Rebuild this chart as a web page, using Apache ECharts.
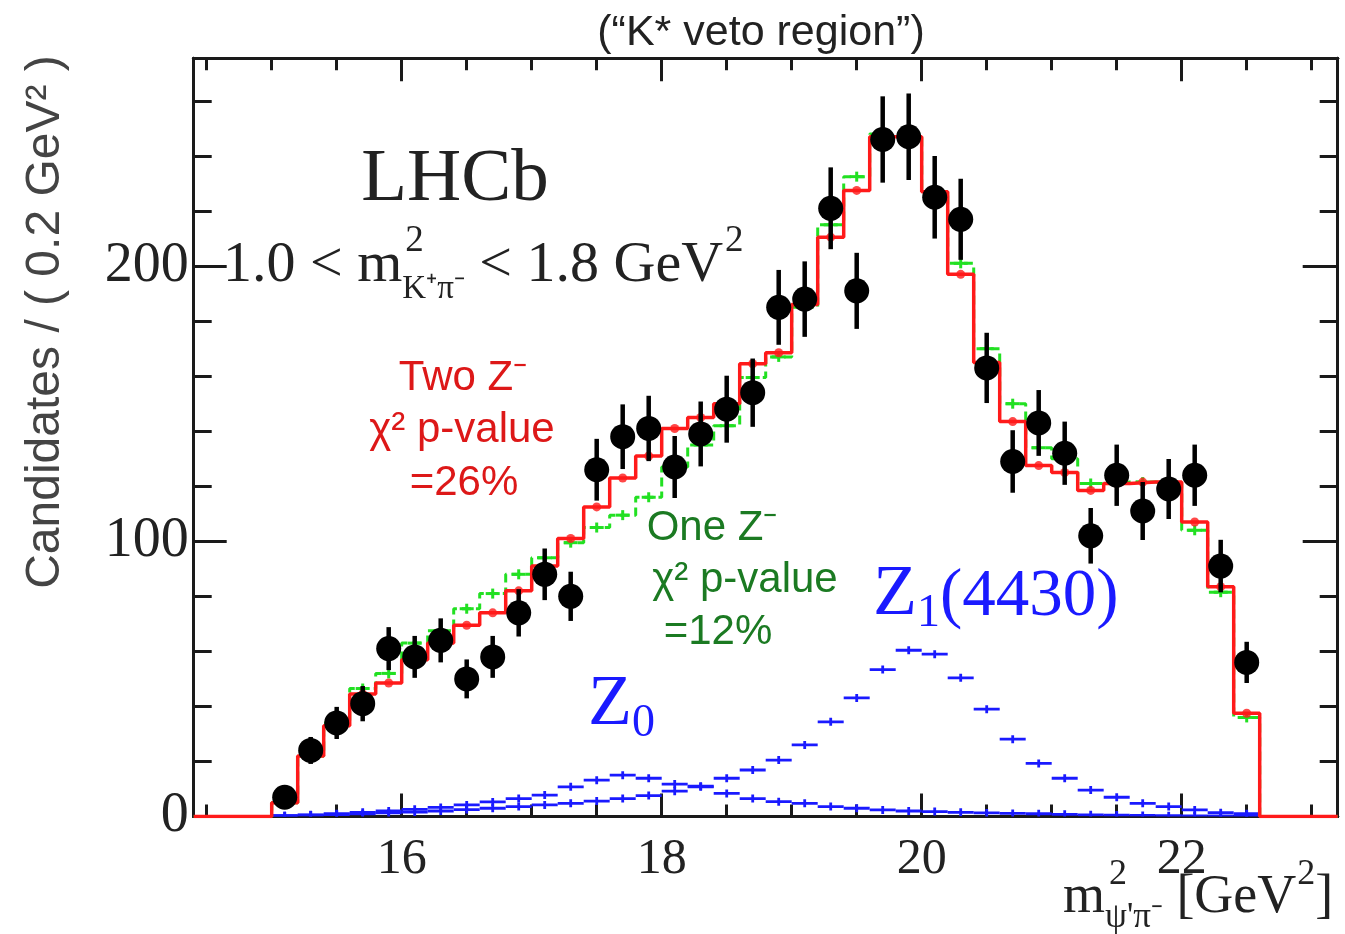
<!DOCTYPE html>
<html><head><meta charset="utf-8">
<script src="https://cdn.jsdelivr.net/npm/echarts@6/dist/echarts.min.js"></script>
<style>html,body{margin:0;padding:0;background:#fff}#c{width:1345px;height:934px}</style>
</head><body><div id="c"></div>
<script>
// ---- data ----
const binCenters = [15.1,15.3,15.5,15.7,15.9,16.1,16.3,16.5,16.7,16.9,17.1,17.3,17.5,17.7,17.9,18.1,18.3,18.5,18.7,18.9,
  19.1,19.3,19.5,19.7,19.9,20.1,20.3,20.5,20.7,20.9,21.1,21.3,21.5,21.7,21.9,22.1,22.3,22.5];
const dataCounts = [7,24,34,41,61,58,64,50,58,74,88,80,126,138,141,127,139,148,154,185,
  188,221,191,246,247,225,217,163,129,143,132,102,124,111,119,124,91,56];
const twoZFit = [5,22,33,44.5,48.5,57,63,69.5,74,82,91,101,112.5,123,131,141,145,150,164.5,168.5,
  186,210.5,227.5,247,247,227,197,165,143.5,127.5,125,118.5,121,121.5,121.5,107,83.5,37.5];
const oneZFit = [5,22,34,46.5,52,63,67.5,75.5,81,88,94,99.5,105,109.5,116,127,135,142,159.5,167,
  185,215,232.5,248,248,227,201,170,150,134,130,121,121.5,121.5,121,104,81.5,36];
const z0Comp = [0.3,0.6,1.0,1.5,2.0,2.6,3.3,4.2,5.3,6.5,7.8,10.8,13.2,15,13.9,11.8,10.8,8.4,6.5,5.4,
  4.8,3.6,3.0,2.4,2.0,1.8,1.5,1.3,1.1,1.0,0.8,0.6,0.5,0.4,0.3,0.2,0.2,0.1];
const z1Comp = [0.3,0.5,0.7,1.0,1.3,1.6,2.0,2.5,3.0,3.6,4.2,4.8,5.6,6.5,7.6,9.2,11,13.9,16.9,20.5,
  26,34.4,43.1,53.4,60.4,59,50.4,39,28.1,19.3,13.9,9.6,7,4.8,3.6,2.4,1.4,1.0];
const xMajorTicks = [16,18,20,22];
const xMinorTicks = [14.5,15,15.5,16.5,17,17.5,18.5,19,19.5,20.5,21,21.5,22.5,23];
const yMajorTicks = [0,100,200];
const yMinorTicks = [20,40,60,80,120,140,160,180,220,240,260];

// ---- layout constants ----
const XMIN = 14.4, XMAX = 23.2, YMIN = 0, YMAX = 275.5, BINW = 0.2;
const SERIF = 'Liberation Serif', SANS = 'Liberation Sans';
const INK = '#1a1a1a';

function stepData(vals) {
  const d = [[XMIN, 0]];
  vals.forEach((v, i) => d.push([+(binCenters[i] - BINW / 2).toFixed(2), v]));
  d.push([+(binCenters[binCenters.length - 1] + BINW / 2).toFixed(2), 0]);
  d.push([XMAX, 0]);
  return d;
}
const pairs = vals => binCenters.map((c, i) => [c, vals[i]]);

function xAx(pos, ticks, len, showLabels) {
  return {
    type: 'value', min: XMIN, max: XMAX, position: pos, gridIndex: 0,
    axisLine: { show: true, onZero: false, lineStyle: { color: INK, width: 3 } },
    axisTick: { show: true, inside: true, length: len, customValues: ticks, lineStyle: { color: INK, width: 3 } },
    axisLabel: showLabels ? { show: true, customValues: xMajorTicks, fontFamily: SERIF, fontSize: 50, color: '#222', margin: 18 } : { show: false },
    splitLine: { show: false }
  };
}
function yAx(pos, ticks, len, showLabels) {
  return {
    type: 'value', min: YMIN, max: YMAX, position: pos, gridIndex: 0,
    axisLine: { show: true, onZero: false, lineStyle: { color: INK, width: 3 } },
    axisTick: { show: true, inside: true, length: len, customValues: ticks, lineStyle: { color: INK, width: 3 } },
    axisLabel: showLabels ? { show: true, customValues: yMajorTicks, fontFamily: SERIF, fontSize: 56, color: '#222', margin: 5 } : { show: false },
    splitLine: { show: false }
  };
}

function compSeries(vals) {
  return {
    type: 'custom', data: pairs(vals), z: 2, clip: true,
    renderItem: (params, api) => {
      const c = api.value(0), v = api.value(1);
      const p0 = api.coord([c - BINW / 2, v]), p1 = api.coord([c + BINW / 2, v]), pc = api.coord([c, v]);
      const st = { stroke: '#1a1aff', lineWidth: 2.8 };
      return { type: 'group', children: [
        { type: 'line', shape: { x1: p0[0], y1: p0[1], x2: p1[0], y2: p1[1] }, style: st },
        { type: 'line', shape: { x1: pc[0], y1: pc[1] - 4, x2: pc[0], y2: pc[1] + 4 }, style: st }
      ]};
    }
  };
}

// ---- text composition ----
const mctx = document.createElement('canvas').getContext('2d');
function tw(t, s, f) { mctx.font = s + 'px "' + f + '"'; return mctx.measureText(t).width; }
function txt(t, x, y, s, f, color, align, extra) {
  return Object.assign({ type: 'text', x: x, y: y, silent: true, z: 100,
    style: { text: t, font: s + 'px "' + f + '"', fill: color, align: align || 'left', verticalAlign: 'middle',
      textAlign: align || 'left', textVerticalAlign: 'middle' } }, extra || {});
}
function compose(x0, baseY, items, color, family) {
  const els = []; let x = x0;
  for (const it of items) {
    const parts = Array.isArray(it) ? it : [it];
    let w = 0;
    for (const p of parts) {
      els.push(txt(p.t, x + (p.dx || 0), baseY + (p.dy || 0) - 0.34 * p.s, p.s, family, color));
      w = Math.max(w, tw(p.t, p.s, family) + (p.dx || 0));
    }
    x += w;
  }
  return els;
}

const graphics = [];
graphics.push(txt('(\u201cK* veto region\u201d)', 761, 33, 43, SANS, '#222', 'center'));
graphics.push(txt('Candidates / ( 0.2 GeV\u00b2 )', 46, 322, 48, SANS, '#444', 'center', { rotation: Math.PI / 2 }));
graphics.push(txt('LHCb', 455, 180, 75, SERIF, '#222', 'center'));
graphics.push(...compose(223, 285, [
  { t: '1.0 < m', s: 58 },
  [{ t: '2', s: 37, dy: -31, dx: 3 }, { t: 'K\u207a\u03c0\u207b', s: 33, dy: 16 }],
  { t: ' < 1.8 GeV', s: 58 },
  { t: '2', s: 37, dy: -31, dx: 2 }
], '#222', SERIF));
graphics.push(...compose(1063, 916, [
  { t: 'm', s: 54 },
  [{ t: '2', s: 36, dy: -29, dx: 4 }, { t: '\u03c8\'\u03c0\u207b', s: 35, dy: 14 }],
  { t: ' [GeV', s: 54 },
  { t: '2', s: 36, dy: -29, dx: 1 },
  { t: ']', s: 54 }
], '#222', SERIF));
const RED = '#dd1818', DGREEN = '#1b7a22', BLUE = '#1a1aff';
graphics.push(txt('Two Z\u207b', 463, 378, 42, SANS, RED, 'center'));
graphics.push(txt('\u03c7\u00b2 p-value', 462, 430, 42, SANS, RED, 'center'));
graphics.push(txt('=26%', 464, 483, 42, SANS, RED, 'center'));
graphics.push(txt('One Z\u207b', 712, 528, 42, SANS, DGREEN, 'center'));
graphics.push(txt('\u03c7\u00b2 p-value', 745, 580, 42, SANS, DGREEN, 'center'));
graphics.push(txt('=12%', 718, 632, 42, SANS, DGREEN, 'center'));
graphics.push(...compose(588, 730, [{ t: 'Z', s: 72 }, { t: '0', s: 46, dy: 10 }], BLUE, SERIF));
graphics.push(...compose(873, 620, [{ t: 'Z', s: 72 }, { t: '1', s: 46, dy: 10 }, { t: '(4430)', s: 67 }], BLUE, SERIF));

const option = {
  animation: false,
  backgroundColor: '#fff',
  grid: { left: 193.7, right: 7.3, top: 58.3, bottom: 117.5, containLabel: false },
  xAxis: [ xAx('bottom', xMajorTicks, 23, true), xAx('bottom', xMinorTicks, 12, false),
           xAx('top', xMajorTicks, 23, false), xAx('top', xMinorTicks, 12, false) ],
  yAxis: [ yAx('left', yMajorTicks, 33, true), yAx('left', yMinorTicks, 18, false),
           yAx('right', yMajorTicks, 35, false), yAx('right', yMinorTicks, 18, false) ],
  graphic: graphics,
  series: [
    compSeries(z0Comp),
    compSeries(z1Comp),
    { type: 'line', data: stepData(oneZFit), step: 'end', symbol: 'none', z: 3,
      lineStyle: { color: '#22e022', width: 3, type: [9, 5] } },
    { type: 'custom', data: pairs(oneZFit), z: 3,
      renderItem: (p, api) => { const pc = api.coord([api.value(0), api.value(1)]);
        return { type: 'group', children: [
          { type: 'line', shape: { x1: pc[0], y1: pc[1] - 5, x2: pc[0], y2: pc[1] + 5 }, style: { stroke: '#22e022', lineWidth: 3 } },
          { type: 'line', shape: { x1: pc[0] - 7, y1: pc[1], x2: pc[0] + 7, y2: pc[1] }, style: { stroke: '#22e022', lineWidth: 3 } }
        ]}; } },
    { type: 'line', data: stepData(twoZFit), step: 'end', symbol: 'none', z: 4,
      lineStyle: { color: '#ff1a1a', width: 3.5 } },
    { type: 'scatter', data: pairs(twoZFit), symbol: 'circle', symbolSize: 9, z: 4,
      itemStyle: { color: '#ff1a1a' } },
    { type: 'custom', data: pairs(dataCounts), z: 5,
      renderItem: (p, api) => {
        const c = api.value(0), v = api.value(1), e = Math.sqrt(v);
        const top = api.coord([c, v + e]), bot = api.coord([c, v - e]), pc = api.coord([c, v]);
        return { type: 'group', children: [
          { type: 'line', shape: { x1: pc[0], y1: top[1], x2: pc[0], y2: bot[1] }, style: { stroke: '#000', lineWidth: 4.5 } },
          { type: 'circle', shape: { cx: pc[0], cy: pc[1], r: 12.5 }, style: { fill: '#000' } }
        ]};
      } }
  ]
};
const chart = echarts.init(document.getElementById('c'), null, { renderer: 'canvas' });
chart.setOption(option);
</script></body></html>
